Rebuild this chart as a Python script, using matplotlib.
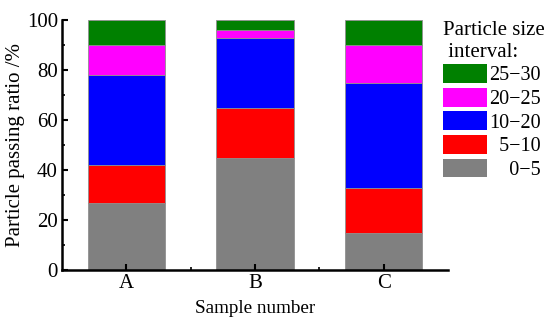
import numpy as np
import matplotlib.pyplot as plt
from matplotlib.patches import Patch
from matplotlib.ticker import MultipleLocator, FixedLocator

plt.rcParams['font.family'] = ['Liberation Serif', 'DejaVu Serif']
plt.rcParams['font.size'] = 15

samples = ["A", "B", "C"]
intervals = ["0\u22125", "5\u221210", "10\u221220", "20\u221225", "25\u221230"]
colors = ["#808080", "#ff0000", "#0000ff", "#ff00ff", "#008000"]
# passing ratio (%) per interval, rows follow `intervals`
ratio_0_5 = [27, 45, 15]
ratio_5_10 = [15, 20, 18]
ratio_10_20 = [36, 28, 42]
ratio_20_25 = [12, 3, 15]
ratio_25_30 = [10, 4, 10]
series = [ratio_0_5, ratio_5_10, ratio_10_20, ratio_20_25, ratio_25_30]

fig = plt.figure(figsize=(5.5, 3.29), dpi=100)
ax = fig.add_axes([0.1127, 0.1793, 0.702, 0.7599])

x = np.arange(len(samples))
bottom = np.zeros(len(samples))
for vals, c in zip(series, colors):
    ax.bar(x, vals, width=0.6, bottom=bottom, color=c, edgecolor="#909090", linewidth=0.6)
    bottom += np.array(vals)

ax.set_xlim(-0.5, 2.5)
ax.set_ylim(0, 100)
ax.set_xticks(x)
ax.set_xticklabels(samples)
ax.xaxis.set_minor_locator(FixedLocator([0.5, 1.5]))
ax.yaxis.set_major_locator(MultipleLocator(20))
ax.yaxis.set_minor_locator(MultipleLocator(10))
ax.tick_params(which="major", direction="in", length=4, width=1.5, pad=3, labelsize=15)
ax.tick_params(which="minor", direction="in", length=2, width=1.2)
for s in ["top", "right"]:
    ax.spines[s].set_visible(False)
for s in ["left", "bottom"]:
    ax.spines[s].set_linewidth(1.8)

ax.set_xlabel("Sample number", labelpad=5, fontsize=13.8)
ax.set_ylabel("Particle passing ratio /%", labelpad=1, fontsize=15)

# legend, top entry first; figure spaces keep labels right-aligned
pad = ["\u2007\u2007", "\u2007", "", "", ""]
handles = [Patch(facecolor=c, edgecolor="none") for c in colors][::-1]
labels = [p + t for p, t in zip(pad, intervals)][::-1]
fig.legend(handles, labels, title="Particle size\n interval:", loc="upper left",
           bbox_to_anchor=(443 / 550, 1 - 21 / 329), frameon=False, borderpad=0,
           borderaxespad=0, handlelength=2.2, handleheight=1.05, labelspacing=0.12,
           handletextpad=0.1, alignment="left", fontsize=14.5, title_fontsize=15)

fig.savefig("out.png", dpi=100)
